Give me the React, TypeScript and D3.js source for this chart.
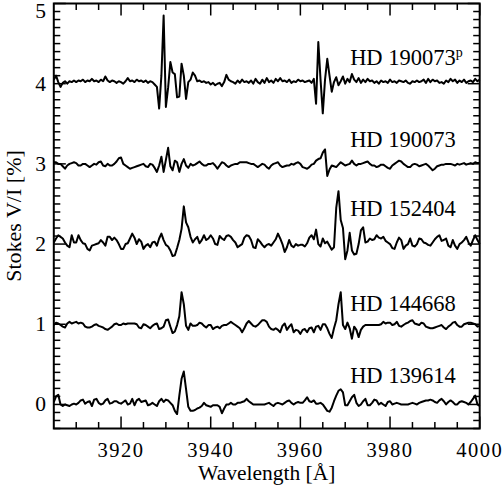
import React from 'react';
import * as d3 from 'd3';

// Sampling grid of the spectra (Å)
const WAVELENGTH = [
  3905, 3905.5, 3906, 3906.5, 3907, 3907.5, 3908, 3908.5, 3909, 3909.5,
  3910, 3910.5, 3911, 3911.5, 3912, 3912.5, 3913, 3913.5, 3914, 3914.5,
  3915, 3915.5, 3916, 3916.5, 3917, 3917.5, 3918, 3918.5, 3919, 3919.5,
  3920, 3920.5, 3921, 3921.5, 3922, 3922.5, 3923, 3923.5, 3924, 3924.5,
  3925, 3925.5, 3926, 3926.5, 3927, 3927.5, 3928, 3928.5, 3929, 3929.5,
  3930, 3930.5, 3931, 3931.5, 3932, 3932.5, 3933, 3933.5, 3934, 3934.5,
  3935, 3935.5, 3936, 3936.5, 3937, 3937.5, 3938, 3938.5, 3939, 3939.5,
  3940, 3940.5, 3941, 3941.5, 3942, 3942.5, 3943, 3943.5, 3944, 3944.5,
  3945, 3945.5, 3946, 3946.5, 3947, 3947.5, 3948, 3948.5, 3949, 3949.5,
  3950, 3950.5, 3951, 3951.5, 3952, 3952.5, 3953, 3953.5, 3954, 3954.5,
  3955, 3955.5, 3956, 3956.5, 3957, 3957.5, 3958, 3958.5, 3959, 3959.5,
  3960, 3960.5, 3961, 3961.5, 3962, 3962.5, 3963, 3963.5, 3964, 3964.5,
  3965, 3965.5, 3966, 3966.5, 3967, 3967.5, 3968, 3968.5, 3969, 3969.5,
  3970, 3970.5, 3971, 3971.5, 3972, 3972.5, 3973, 3973.5, 3974, 3974.5,
  3975, 3975.5, 3976, 3976.5, 3977, 3977.5, 3978, 3978.5, 3979, 3979.5,
  3980, 3980.5, 3981, 3981.5, 3982, 3982.5, 3983, 3983.5, 3984, 3984.5,
  3985, 3985.5, 3986, 3986.5, 3987, 3987.5, 3988, 3988.5, 3989, 3989.5,
  3990, 3990.5, 3991, 3991.5, 3992, 3992.5, 3993, 3993.5, 3994, 3994.5,
  3995, 3995.5, 3996, 3996.5, 3997, 3997.5, 3998, 3998.5, 3999, 3999.5,
  4000,
];

// Stokes V/I deviations (%) of each star, drawn shifted by OFFSETS
const V_HD190073P = [
  0.05, 0.10, 0.02, -0.04, 0.01, 0.03, 0.00, 0.03, 0.02, 0.04,
  0.02, 0.04, 0.03, 0.05, 0.02, 0.04, 0.03, 0.06, 0.03, 0.04,
  0.02, 0.05, 0.03, 0.09, 0.04, 0.02, 0.04, 0.03, 0.01, 0.03,
  0.02, 0.00, 0.03, 0.07, 0.03, 0.04, 0.02, 0.05, 0.03, 0.04,
  0.02, 0.04, 0.01, 0.03, 0.02, -0.01, -0.04, -0.31, 0.10, 0.85,
  -0.29, -0.05, 0.27, 0.14, 0.12, -0.17, -0.16, 0.25, 0.10, -0.19,
  0.02, 0.05, 0.14, 0.10, 0.03, 0.04, 0.02, 0.03, 0.01, 0.02,
  -0.01, 0.01, -0.02, 0.00, 0.01, -0.03, 0.02, 0.11, 0.05, 0.03,
  0.02, 0.00, 0.04, 0.01, 0.05, 0.02, 0.03, 0.01, 0.04, 0.00,
  0.06, 0.02, 0.00, 0.05, 0.01, 0.07, 0.02, 0.04, 0.01, 0.06,
  0.03, 0.07, 0.03, 0.04, 0.02, 0.05, 0.01, 0.03, 0.02, 0.05,
  0.03, 0.04, 0.02, 0.03, 0.04, 0.01, 0.06, -0.25, 0.52, 0.05,
  -0.37, 0.05, 0.31, 0.10, -0.10, 0.02, 0.08, -0.02, 0.03, 0.09,
  0.00, 0.06, 0.02, 0.12, 0.05, 0.02, 0.07, 0.01, 0.05, 0.02,
  0.06, 0.03, 0.04, 0.01, 0.03, 0.00, 0.04, 0.02, 0.03, 0.01,
  0.05, 0.02, 0.03, 0.01, 0.04, 0.03, 0.02, 0.04, 0.01, 0.00,
  0.03, 0.02, 0.04, 0.02, 0.03, 0.05, 0.01, 0.06, 0.02, 0.05,
  0.03, 0.04, 0.01, 0.02, 0.00, 0.04, 0.02, 0.06, 0.03, 0.05,
  0.01, 0.04, 0.02, 0.05, 0.01, 0.03, 0.04, 0.02, 0.06, 0.03,
  0.05,
];

const V_HD190073 = [
  0.02, 0.02, 0.00, 0.00, -0.03, -0.06, -0.02, 0.00, 0.01, 0.02,
  0.01, -0.02, -0.02, 0.00, 0.00, -0.02, -0.04, -0.02, 0.00, -0.01,
  0.02, 0.03, -0.02, -0.03, 0.00, -0.02, -0.02, 0.00, 0.03, 0.07,
  0.08, 0.00, -0.02, -0.04, -0.06, -0.05, -0.04, -0.03, -0.02, -0.01,
  0.00, -0.03, -0.04, 0.00, -0.01, -0.05, -0.10, -0.02, 0.09, -0.10,
  0.05, 0.20, -0.03, -0.08, 0.04, 0.02, -0.10, 0.00, 0.06, -0.02,
  -0.05, 0.00, -0.02, -0.01, 0.01, 0.03, 0.00, -0.02, -0.02, 0.00,
  0.00, 0.01, -0.02, -0.06, -0.02, 0.02, 0.01, -0.02, -0.04, -0.02,
  -0.01, 0.00, 0.00, 0.02, 0.02, 0.02, 0.02, 0.01, 0.00, 0.00,
  -0.02, -0.04, -0.02, 0.00, -0.01, -0.04, -0.06, -0.02, 0.00, 0.01,
  0.02, -0.02, -0.04, -0.03, -0.02, -0.02, 0.00, -0.01, 0.01, 0.02,
  0.00, -0.04, -0.05, -0.06, -0.04, -0.01, 0.00, 0.04, 0.06, 0.07,
  0.14, 0.18, -0.15, -0.07, -0.02, -0.03, -0.04, -0.01, 0.02, 0.00,
  -0.02, -0.01, 0.00, 0.04, 0.00, -0.02, 0.00, 0.00, 0.01, 0.02,
  0.03, 0.00, -0.02, -0.02, -0.04, -0.03, -0.01, -0.01, -0.03, -0.05,
  -0.06, -0.02, 0.00, 0.02, 0.04, 0.03, 0.00, -0.02, -0.04, -0.04,
  -0.01, 0.00, -0.01, -0.03, -0.02, -0.01, 0.00, -0.02, -0.05, -0.08,
  -0.06, -0.03, -0.02, -0.01, -0.01, 0.00, 0.00, 0.00, -0.01, -0.02,
  0.00, -0.01, 0.00, 0.01, -0.01, 0.00, 0.01, 0.00, 0.02, 0.01,
  0.01,
];

const V_HD152404 = [
  0.02, 0.07, 0.11, 0.09, 0.07, 0.02, -0.02, -0.04, 0.11, 0.02,
  0.02, 0.11, 0.05, 0.01, 0.00, -0.06, -0.08, -0.02, -0.01, 0.00,
  0.01, 0.05, 0.02, -0.02, 0.09, 0.09, 0.05, 0.08, 0.05, 0.00,
  -0.06, -0.06, 0.00, 0.01, 0.07, 0.13, 0.08, 0.00, 0.06, 0.03,
  -0.06, -0.02, 0.00, -0.04, 0.02, 0.03, -0.02, 0.07, 0.13, 0.05,
  -0.01, -0.03, -0.08, -0.15, -0.14, -0.05, 0.05, 0.19, 0.47, 0.27,
  0.21, 0.09, 0.02, 0.06, 0.09, 0.01, 0.05, 0.11, 0.05, 0.07,
  0.11, 0.07, 0.00, -0.01, 0.10, 0.07, 0.05, 0.10, 0.11, 0.09,
  0.05, 0.02, -0.04, -0.02, 0.00, 0.08, 0.11, 0.10, 0.05, -0.04,
  -0.05, 0.06, 0.03, -0.01, -0.04, -0.01, 0.00, -0.02, 0.02, 0.06,
  0.13, 0.07, 0.00, -0.10, -0.04, 0.05, -0.02, -0.04, 0.00, -0.02,
  -0.01, -0.01, -0.03, 0.01, 0.08, 0.11, 0.06, 0.18, 0.00, -0.03,
  0.07, 0.01, 0.03, -0.02, -0.07, -0.04, 0.45, 0.66, 0.30, 0.20,
  -0.19, -0.08, 0.14, -0.08, -0.13, -0.12, 0.00, 0.17, 0.21, 0.02,
  0.03, 0.07, 0.05, 0.06, 0.11, 0.08, 0.07, 0.09, 0.04, 0.02,
  0.00, -0.05, -0.06, 0.02, 0.08, 0.05, -0.06, -0.02, 0.00, 0.07,
  -0.02, -0.03, 0.00, 0.07, 0.06, 0.02, 0.01, -0.01, -0.02, 0.02,
  0.06, 0.09, 0.11, 0.04, 0.05, 0.07, -0.02, -0.04, 0.05, -0.02,
  -0.06, 0.00, 0.02, 0.05, 0.09, 0.02, -0.02, 0.05, 0.11, 0.05,
  0.00,
];

const V_HD144668 = [
  -0.01, 0.02, 0.01, -0.01, -0.03, -0.04, 0.01, 0.03, 0.01, 0.02,
  0.03, 0.01, 0.02, 0.01, -0.03, -0.04, -0.04, -0.03, -0.01, 0.00,
  -0.02, -0.03, -0.04, -0.06, -0.07, -0.05, -0.03, 0.00, 0.01, -0.01,
  -0.01, 0.01, 0.00, 0.01, 0.01, 0.01, 0.01, 0.00, -0.04, -0.05,
  0.00, -0.01, -0.03, -0.05, -0.02, 0.00, 0.01, -0.06, -0.05, -0.03,
  0.05, 0.06, -0.03, -0.11, -0.09, -0.01, 0.10, 0.40, 0.25, -0.02,
  -0.07, 0.01, -0.02, -0.02, -0.01, 0.02, 0.01, -0.02, -0.04, -0.01,
  -0.01, -0.06, -0.04, -0.03, -0.05, -0.02, -0.01, -0.01, 0.01, 0.03,
  0.01, -0.01, -0.03, -0.05, -0.10, -0.05, 0.01, 0.04, 0.01, -0.02,
  -0.03, -0.01, 0.02, 0.05, 0.05, 0.03, -0.03, -0.06, -0.07, -0.05,
  -0.07, -0.10, -0.02, 0.01, -0.07, -0.03, 0.00, -0.10, -0.07, -0.08,
  -0.12, -0.07, -0.06, -0.10, -0.05, -0.04, -0.10, -0.03, -0.02, -0.07,
  0.00, 0.00, -0.05, -0.12, -0.17, -0.05, 0.05, 0.25, 0.40, -0.01,
  -0.06, 0.02, -0.05, -0.18, -0.03, -0.07, -0.16, -0.07, -0.03, -0.01,
  -0.01, -0.01, -0.01, -0.01, -0.01, -0.01, 0.00, 0.03, 0.01, 0.02,
  0.02, -0.01, 0.00, 0.03, -0.02, -0.03, -0.01, 0.01, 0.02, 0.04,
  0.05, 0.01, 0.00, -0.01, 0.02, 0.01, -0.03, -0.04, -0.05, -0.05,
  -0.04, -0.03, -0.02, -0.01, -0.04, -0.06, -0.03, -0.01, 0.02, 0.03,
  -0.01, -0.03, -0.03, 0.00, 0.01, 0.02, 0.02, 0.01, 0.00, -0.03,
  -0.02,
];

const V_HD139614 = [
  0.03, 0.10, 0.12, 0.00, -0.02, 0.00, -0.01, -0.02, 0.00, 0.01,
  0.00, 0.02, 0.05, 0.06, 0.01, 0.03, 0.04, -0.02, 0.06, 0.07,
  0.02, 0.00, 0.01, 0.05, 0.07, 0.01, 0.02, 0.04, 0.04, 0.02,
  0.01, 0.03, 0.05, 0.00, 0.01, 0.07, -0.01, 0.05, 0.07, 0.03,
  0.04, 0.05, -0.01, 0.00, 0.02, 0.00, -0.02, 0.04, 0.07, 0.03,
  0.06, 0.05, 0.02, -0.01, -0.08, -0.12, 0.11, 0.32, 0.41, 0.19,
  -0.03, -0.08, -0.08, -0.07, -0.05, -0.04, -0.02, 0.02, -0.01, -0.02,
  -0.03, -0.01, -0.01, -0.01, -0.03, -0.11, -0.05, 0.00, 0.00, 0.02,
  0.00, 0.00, 0.02, 0.02, 0.03, 0.04, 0.07, 0.04, 0.02, 0.00,
  0.00, 0.00, 0.00, 0.00, 0.00, 0.01, 0.02, 0.00, -0.02, 0.01,
  0.02, 0.01, 0.00, 0.02, 0.04, 0.05, 0.02, 0.00, 0.02, 0.03,
  0.02, 0.02, 0.05, 0.09, 0.04, 0.03, 0.05, 0.01, 0.01, 0.02,
  0.00, -0.04, -0.08, -0.09, -0.04, 0.04, 0.11, 0.17, 0.19, 0.15,
  -0.01, -0.01, 0.04, 0.09, 0.12, 0.02, -0.02, 0.00, 0.04, 0.07,
  -0.01, -0.01, 0.02, 0.06, 0.05, 0.00, 0.02, 0.00, -0.02, 0.03,
  0.04, 0.00, 0.01, 0.02, 0.01, 0.00, 0.00, 0.00, 0.00, 0.01,
  0.02, 0.01, 0.00, 0.02, 0.03, 0.04, 0.05, 0.05, 0.06, 0.05,
  0.03, 0.02, 0.05, 0.07, 0.04, 0.00, 0.03, 0.05, 0.03, 0.00,
  0.00, 0.03, 0.04, 0.03, 0.02, 0.00, 0.03, 0.07, 0.11, 0.00,
  -0.02,
];

const SERIES = [V_HD190073P, V_HD190073, V_HD152404, V_HD144668, V_HD139614];
const OFFSETS = [4, 3, 2, 1, 0];
const STAR_NAMES = ['HD 190073', 'HD 190073', 'HD 152404', 'HD 144668', 'HD 139614'];
const STAR_SUPERSCRIPTS = ['p', '', '', '', ''];
const LABEL_X = 3971.1; // Å
const LABEL_Y = [4.23, 3.21, 2.35, 1.17, 0.27]; // %

const X_DOMAIN = [3905, 4000];
const Y_DOMAIN = [-0.3, 5];
const X_MAJOR = [3920, 3940, 3960, 3980, 4000];
const Y_MAJOR = [0, 1, 2, 3, 4, 5];

export default function App() {
  const W = 504;
  const H = 490;
  const left = 53.8, right = 479.7, top = 3.5, bottom = 428.5;
  const x = d3.scaleLinear().domain(X_DOMAIN).range([left, right]);
  const y = d3.scaleLinear().domain(Y_DOMAIN).range([bottom, top]);

  const xMinor = d3.range(3910, 4000, 5).filter((v) => !X_MAJOR.includes(v));
  const yMinor = d3.range(-3, 51).map((k) => k / 10).filter((v) => Math.abs(v - Math.round(v)) > 1e-6);

  const font = '"Liberation Serif", "Times New Roman", Times, serif';
  const majLen = 12, minLen = 6.5;

  return (
    <svg width={W} height={H} viewBox={`0 0 ${W} ${H}`} style={{ position: 'absolute', left: 0, top: 0, background: '#fff' }}>
      <rect x={0} y={0} width={W} height={H} fill="#fff" />
      {SERIES.map((s, k) => {
        const line = d3
          .line<number>()
          .x((_, i) => x(WAVELENGTH[i]))
          .y((d) => y(d + OFFSETS[k]));
        return (
          <path key={k} d={line(s) || ''} fill="none" stroke="#000" strokeWidth={2} strokeLinejoin="round" />
        );
      })}

      {/* ticks */}
      <g stroke="#000" strokeWidth={1.5}>
        {X_MAJOR.map((v) => (
          <g key={'xm' + v}>
            <line x1={x(v)} x2={x(v)} y1={bottom} y2={bottom - majLen} />
            <line x1={x(v)} x2={x(v)} y1={top} y2={top + majLen} />
          </g>
        ))}
        {xMinor.map((v) => (
          <g key={'xn' + v}>
            <line x1={x(v)} x2={x(v)} y1={bottom} y2={bottom - minLen} />
            <line x1={x(v)} x2={x(v)} y1={top} y2={top + minLen} />
          </g>
        ))}
        {Y_MAJOR.map((v) => (
          <g key={'ym' + v}>
            <line x1={left} x2={left + majLen} y1={y(v)} y2={y(v)} />
            <line x1={right} x2={right - majLen} y1={y(v)} y2={y(v)} />
          </g>
        ))}
        {yMinor.map((v) => (
          <g key={'yn' + v}>
            <line x1={left} x2={left + minLen} y1={y(v)} y2={y(v)} />
            <line x1={right} x2={right - minLen} y1={y(v)} y2={y(v)} />
          </g>
        ))}
      </g>

      <rect x={left} y={top} width={right - left} height={bottom - top} fill="none" stroke="#000" strokeWidth={2} />

      {/* tick labels */}
      <g style={{ fontFamily: font }} fill="#000">
        {X_MAJOR.map((v) => (
          <text key={'xl' + v} x={x(v)} y={456.5} fontSize={20.5} textAnchor="middle" letterSpacing={1.5}>
            {v}
          </text>
        ))}
        {Y_MAJOR.map((v) => (
          <text key={'yl' + v} x={46} y={Math.max(y(v), 11)} fontSize={21.5} textAnchor="end" dominantBaseline="central">
            {v}
          </text>
        ))}
        <text x={(left + right) / 2} y={479.5} fontSize={21.5} textAnchor="middle">
          Wavelength [Å]
        </text>
        <text transform={`translate(21, ${(top + bottom) / 2}) rotate(-90)`} fontSize={22} textAnchor="middle">
          Stokes V/I [%]
        </text>
      </g>

      {/* star labels */}
      <g style={{ fontFamily: font }} fontSize={22.5} fill="#000">
        {STAR_NAMES.map((n, k) => (
          <text key={'sn' + k} x={x(LABEL_X)} y={y(LABEL_Y[k])}>
            {n}
            {STAR_SUPERSCRIPTS[k] ? (
              <tspan fontSize={14} dy={-8}>
                {STAR_SUPERSCRIPTS[k]}
              </tspan>
            ) : null}
          </text>
        ))}
      </g>
    </svg>
  );
}
